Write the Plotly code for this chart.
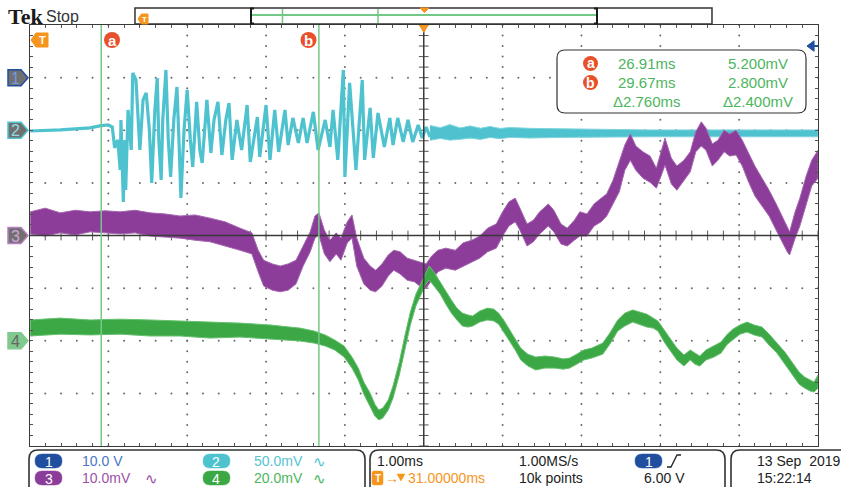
import numpy as np
import plotly.graph_objects as go

W, H = 841, 487
SANS = "Liberation Sans, Arial, sans-serif"
SERIF = "Liberation Serif, Times New Roman, serif"

# ---- acquisition settings -------------------------------------------------
t_left, t_right = 26.0, 36.0          # ms, 1.00 ms/div, centre at 31 ms
ch1_scale_v = 10.0                     # V/div
ch2_scale, ch3_scale, ch4_scale = 50.0, 10.0, 20.0   # mV/div
ch_offset = {1: 3.0, 2: 2.0, 3: 0.0, 4: -2.0}        # divisions
trig_level_v = 6.0

cursor_a_ms, cursor_b_ms = 26.91, 29.67
cursor_a_mv, cursor_b_mv = 5.200, 2.800

# ---- channel 2 (cyan): burst, then settled noise band ---------------------
ch2_t = [26.01, 26.39, 26.77, 26.89, 27.00, 27.05, 27.08, 27.12, 27.15, 27.16,
         27.19, 27.21, 27.22, 27.25, 27.29, 27.31, 27.35, 27.38, 27.40, 27.44,
         27.48, 27.52, 27.55, 27.59, 27.62, 27.64, 27.67, 27.69, 27.73, 27.76,
         27.79, 27.83, 27.87, 27.90, 27.92, 27.96, 28.00, 28.04, 28.07, 28.12,
         28.16, 28.19, 28.23, 28.25, 28.30, 28.34, 28.39, 28.44, 28.49, 28.53,
         28.57, 28.63, 28.69, 28.76, 28.80, 28.89, 28.92, 28.96, 29.00, 29.05,
         29.11, 29.16, 29.24, 29.28, 29.34, 29.41, 29.47, 29.52, 29.60, 29.66,
         29.75, 29.81, 29.85, 29.91, 29.98, 30.00, 30.06, 30.14, 30.22, 30.25,
         30.32, 30.36, 30.42, 30.50, 30.57, 30.61, 30.67, 30.74, 30.80, 30.86,
         30.93, 30.98, 31.03, 31.08]
ch2_mv = [-0.7, 0.3, 2.2, 4.1, 5.0, 3.1, -16.8, -9.2, -37.7, 9.8,
          -68.1, -9.2, -56.7, 19.3, -18.7, 54.4, 47.8, 5.0, -18.7, 28.8,
          35.4, 0.3, -50.1, 19.3, 49.7, -9.2, -47.2, 9.8, 57.3, -9.2,
          -44.4, 9.8, 41.1, -18.7, -64.3, 0.3, 38.3, -9.2, -34.9, 26.9,
          -18.7, -31.1, 14.5, 28.8, -21.6, 9.8, 26.9, -23.5, 9.8, 25.9,
          -28.2, 9.8, -18.7, 24.0, -30.1, 12.6, -25.4, 0.3, 24.0, -28.2,
          19.3, -20.6, 19.3, -14.0, 11.7, -12.1, 11.7, -12.1, 17.4, -18.7,
          9.8, -15.9, 19.3, -28.2, 57.3, -44.4, 45.0, -37.7, 47.8, -28.2,
          21.2, -26.3, 16.4, -15.9, 11.7, -14.0, 11.7, -11.1, 9.8, -11.1,
          5.0, -7.3, 3.1, -6.4]
ch2_tail_t = [31.08, 31.21, 31.33, 31.46, 31.59, 31.72, 31.84, 31.97, 32.09,
              32.35, 32.73, 33.11, 33.87, 36.00]
ch2_tail_hi = [4.6, 2.4, 5.4, 2.2, 4.1, 1.9, 3.6, 1.7, 2.6, 1.8, 1.4, 0.9, 0.3, 0.3]
ch2_tail_lo = [-9.6, -7.8, -9.4, -8.6, -7.5, -8.7, -6.9, -8.0, -6.8,
               -7.4, -6.8, -6.4, -6.2, -6.2]

# ---- channel 3 (purple): noise band envelope -------------------------------
ch3_t = [26.01, 26.20, 26.39, 26.58, 26.77, 26.96, 27.15, 27.34, 27.53, 27.72,
         27.91, 28.10, 28.29, 28.48, 28.67, 28.82, 28.90, 28.97, 29.08, 29.18,
         29.28, 29.38, 29.47, 29.56, 29.62, 29.67, 29.74, 29.81, 29.89, 29.95,
         30.03, 30.09, 30.15, 30.24, 30.32, 30.39, 30.47, 30.55, 30.62, 30.70,
         30.79, 30.88, 30.95, 31.03, 31.10, 31.18, 31.28, 31.40, 31.50, 31.61,
         31.71, 31.81, 31.92, 32.00, 32.08, 32.16, 32.22, 32.31, 32.39, 32.47,
         32.58, 32.65, 32.74, 32.82, 32.91, 32.98, 33.07, 33.16, 33.25, 33.32,
         33.40, 33.48, 33.55, 33.62, 33.69, 33.78, 33.87, 33.95, 34.01, 34.06,
         34.14, 34.21, 34.30, 34.38, 34.45, 34.52, 34.58, 34.66, 34.73, 34.81,
         34.88, 34.96, 35.04, 35.11, 35.20, 35.29, 35.38, 35.47, 35.54, 35.61,
         35.64, 35.71, 35.77, 35.85, 35.92, 36.00]
ch3_hi = [4.5, 5.2, 4.3, 4.8, 4.5, 4.7, 4.5, 4.8, 4.3, 4.1,
          3.7, 3.9, 3.3, 2.6, 1.4, 0.5, -2.8, -4.7, -5.4, -5.8,
          -5.4, -4.7, -2.0, 0.7, 3.7, 4.3, 1.0, -0.9, 0.5, -0.5,
          2.6, 3.9, -0.5, -4.3, -5.8, -6.6, -5.4, -3.7, -2.8, -3.1,
          -4.3, -4.7, -5.0, -5.4, -3.9, -2.8, -2.4, -2.8, -1.4, -0.9,
          -0.1, 1.4, 2.2, 4.5, 6.4, 7.1, 5.2, 2.2, 2.9, 4.5,
          6.0, 4.8, 2.2, 1.4, 2.9, 4.5, 4.1, 6.0, 7.1, 7.9,
          10.5, 13.9, 17.2, 19.3, 17.0, 15.9, 15.1, 12.8, 16.2, 18.5,
          14.7, 13.2, 14.3, 15.9, 19.7, 21.6, 20.4, 17.4, 18.1, 20.0,
          19.3, 20.0, 18.1, 15.9, 13.2, 10.9, 8.6, 6.0, 3.7, 1.4,
          0.7, 4.5, 7.1, 11.3, 14.3, 16.2]
ch3_lo = [0.3, -0.1, 0.5, 0.1, 0.7, 0.5, 0.3, 0.5, -0.1, -0.3,
          -0.5, -0.9, -1.2, -2.0, -2.8, -3.5, -6.9, -9.6, -10.4, -10.7,
          -10.4, -9.2, -5.8, -3.1, -0.5, 0.1, -3.5, -5.0, -3.5, -4.7,
          -1.4, -0.5, -5.8, -9.2, -10.4, -10.7, -9.6, -7.7, -6.6, -7.3,
          -8.5, -8.8, -9.6, -10.0, -8.5, -6.9, -6.2, -6.6, -5.8, -5.0,
          -4.3, -3.1, -2.4, -0.1, 1.8, 2.6, 1.0, -2.0, -1.2, 0.3,
          1.8, 0.7, -1.6, -2.0, -0.9, -0.1, -0.1, 1.8, 2.6, 3.7,
          6.0, 8.3, 12.4, 14.3, 12.4, 10.9, 10.1, 9.0, 11.3, 13.4,
          9.8, 8.6, 10.5, 12.1, 15.9, 17.0, 16.2, 13.2, 14.3, 15.9,
          15.1, 15.3, 13.2, 10.5, 7.5, 5.6, 3.7, 1.0, -0.9, -3.1,
          -3.7, -0.5, 1.8, 6.0, 9.4, 10.9]

# ---- channel 4 (green): noise band envelope --------------------------------
ch4_t = [26.01, 26.39, 26.77, 27.15, 27.53, 27.91, 28.29, 28.67, 29.05, 29.43,
         29.61, 29.75, 29.87, 29.99, 30.09, 30.17, 30.24, 30.32, 30.38, 30.43,
         30.48, 30.55, 30.61, 30.69, 30.76, 30.83, 30.90, 30.97, 31.02, 31.07,
         31.13, 31.21, 31.28, 31.35, 31.42, 31.49, 31.56, 31.62, 31.71, 31.81,
         31.89, 31.95, 32.03, 32.09, 32.16, 32.23, 32.32, 32.42, 32.54, 32.66,
         32.77, 32.85, 32.94, 33.03, 33.13, 33.27, 33.36, 33.46, 33.55, 33.65,
         33.74, 33.83, 33.91, 33.97, 34.05, 34.12, 34.21, 34.30, 34.38, 34.44,
         34.50, 34.58, 34.68, 34.77, 34.85, 34.92, 35.01, 35.10, 35.19, 35.29,
         35.39, 35.48, 35.58, 35.67, 35.76, 35.83, 35.90, 35.95, 36.00]
ch4_hi = [7.9, 8.6, 7.9, 8.2, 7.9, 7.5, 7.1, 6.7, 6.0, 4.8,
          3.7, 2.2, 0.3, -2.0, -6.2, -10.4, -15.7, -19.9, -24.1, -26.3,
          -25.6, -22.5, -17.2, -8.1, 1.8, 10.9, 17.7, 22.3, 25.7, 28.4,
          26.1, 22.3, 18.5, 15.5, 12.4, 10.5, 9.8, 9.4, 11.3, 12.4,
          12.0, 10.5, 7.1, 4.1, 0.3, -2.8, -5.1, -6.2, -5.8, -6.2,
          -6.9, -6.6, -5.1, -3.5, -2.8, -0.9, 2.9, 7.9, 10.5, 11.7,
          10.9, 10.1, 8.6, 7.5, 4.1, 1.0, -2.8, -5.4, -3.5, -4.7,
          -5.8, -3.5, -2.0, -0.5, 2.5, 4.4, 6.0, 7.1, 6.0, 5.2,
          2.2, -0.9, -4.3, -8.1, -11.9, -13.8, -14.9, -15.7, -13.0]
ch4_lo = [1.8, 2.5, 2.2, 2.5, 1.8, 1.8, 1.0, 1.4, 0.6, -0.1,
          -0.9, -2.0, -3.5, -6.2, -10.4, -14.9, -20.3, -25.2, -28.6, -30.1,
          -29.4, -26.3, -21.8, -13.0, -3.5, 6.0, 13.2, 17.7, 21.2, 23.1,
          20.8, 17.7, 13.9, 10.5, 7.9, 5.6, 5.2, 5.6, 7.1, 7.9,
          7.5, 6.3, 2.9, -0.1, -3.5, -7.3, -9.6, -11.1, -10.4, -10.4,
          -10.8, -10.4, -8.9, -7.3, -6.6, -5.1, -1.3, 3.7, 5.6, 7.1,
          6.3, 5.2, 4.8, 3.7, -0.5, -3.5, -7.3, -9.6, -7.3, -8.9,
          -9.6, -7.3, -6.2, -4.7, -1.3, 0.3, 2.5, 3.3, 2.2, 1.4,
          -2.0, -4.7, -8.9, -12.7, -16.5, -18.0, -19.1, -19.5, -18.0]

# ---- colours ---------------------------------------------------------------
C_CH1, C_CH1_TXT = "#1f4f9e", "#4a76c6"
C_CH2, C_CH2_TXT = "#4ec3cf", "#55c4d1"
C_CH3, C_CH3_TXT = "#8c3d99", "#9b52a8"
C_CH4, C_CH4_TXT = "#3ca845", "#4cb65c"
C_ORANGE = "#f7941d"
C_CURSOR = "#74c887"
C_LABEL = "#e8502a"
C_READ = "#4db55e"
C_FRAME = "#3a3a3a"


def P(x, y):
    """pixel position -> paper coordinates"""
    return x / W, 1 - y / H


def pp(x, y):
    a, b = P(x, y)
    return f"{a:.5f},{b:.5f}"


def poly_px(points):
    return "M" + " L".join(pp(x, y) for x, y in points) + " Z"


def rrect_px(x0, y0, x1, y1, r):
    return (f"M{pp(x0 + r, y0)} L{pp(x1 - r, y0)} Q{pp(x1, y0)} {pp(x1, y0 + r)} "
            f"L{pp(x1, y1 - r)} Q{pp(x1, y1)} {pp(x1 - r, y1)} L{pp(x0 + r, y1)} "
            f"Q{pp(x0, y1)} {pp(x0, y1 - r)} L{pp(x0, y0 + r)} Q{pp(x0, y0)} {pp(x0 + r, y0)} Z")


shapes, annos = [], []


def txt(x, y, s, color="#222", size=14, anchor="left", family=SANS):
    a, b = P(x, y)
    annos.append(dict(x=a, y=b, xref="paper", yref="paper", text=s, showarrow=False,
                      xanchor=anchor, yanchor="middle",
                      font=dict(family=family, size=size, color=color)))


def to_div(values, ch, scale):
    return [ch_offset[ch] + v / scale for v in values]


fig = go.Figure()

# ---- graticule dots --------------------------------------------------------
minor_x = np.round(np.arange(t_left, t_right + 1e-9, 0.2), 3)
minor_y = np.round(np.arange(-4, 4 + 1e-9, 0.2), 3)
major_x = [v for v in range(27, 36) if v != 31]
major_y = [v for v in range(-3, 4) if v != 0]
gx = [mx for mx in major_x for _ in minor_y] + [x for _ in major_y for x in minor_x]
gy = [y for _ in major_x for y in minor_y] + [my for my in major_y for _ in minor_x]
fig.add_trace(go.Scatter(x=gx, y=gy, mode="markers", hoverinfo="skip",
                         marker=dict(size=2, color="#6a6a6a")))
fig.add_trace(go.Scatter(x=[31] * len(minor_y), y=minor_y, mode="markers", hoverinfo="skip",
                         marker=dict(symbol="line-ew", size=7, line=dict(width=1, color="#555"))))
fig.add_trace(go.Scatter(x=minor_x, y=[0] * len(minor_x), mode="markers", hoverinfo="skip",
                         marker=dict(symbol="line-ns", size=7, line=dict(width=1, color="#555"))))


def band(t, hi, lo, ch, scale, fill, edge):
    xs = list(t) + list(t[::-1])
    ys = to_div(hi, ch, scale) + to_div(lo[::-1], ch, scale)
    return go.Scatter(x=xs, y=ys, mode="lines", fill="toself", fillcolor=fill,
                      line=dict(color=edge, width=1), hoverinfo="skip")


# ---- waveforms -------------------------------------------------------------
fig.add_trace(go.Scatter(x=ch2_t, y=to_div(ch2_mv, 2, ch2_scale), mode="lines",
                         line=dict(color=C_CH2, width=3.2), hoverinfo="skip"))
fig.add_trace(band(ch2_tail_t, ch2_tail_hi, ch2_tail_lo, 2, ch2_scale, C_CH2, "#7fd3dc"))
fig.add_trace(band(ch3_t, ch3_hi, ch3_lo, 3, ch3_scale, C_CH3, "#a466b0"))
fig.add_trace(band(ch4_t, ch4_hi, ch4_lo, 4, ch4_scale, C_CH4, "#66c06f"))

# ---- centre lines and cursors ----------------------------------------------
shapes.append(dict(type="line", xref="x", yref="y", x0=t_left, x1=t_right, y0=0, y1=0,
                   line=dict(color=C_FRAME, width=1.5), layer="above"))
shapes.append(dict(type="line", xref="x", yref="y", x0=31, x1=31, y0=-4, y1=4,
                   line=dict(color=C_FRAME, width=1.5), layer="above"))
for tc in (cursor_a_ms, cursor_b_ms):
    shapes.append(dict(type="line", xref="x", yref="y", x0=tc, x1=tc, y0=-4, y1=4,
                       line=dict(color=C_CURSOR, width=1.5), layer="above"))

# expansion-point marker at screen centre
shapes.append(dict(type="path", xref="x", yref="y", layer="above",
                   path=f"M30.943,4 L31.057,4 L31,3.86 Z",
                   fillcolor=C_ORANGE, line=dict(color=C_ORANGE, width=1)))
# trigger level arrow on the right edge
ytrig = ch_offset[1] + trig_level_v / ch1_scale_v
shapes.append(dict(type="path", xref="x", yref="y", layer="above",
                   path=f"M35.86,{ytrig} L35.95,{ytrig + 0.1} L35.95,{ytrig - 0.1} Z",
                   fillcolor=C_CH1, line=dict(color=C_CH1, width=1)))
shapes.append(dict(type="line", xref="x", yref="y", x0=35.94, x1=36.0, y0=ytrig, y1=ytrig,
                   line=dict(color=C_CH1, width=2), layer="above"))

# cursor labels
for cx, lab in ((112, "a"), (308.5, "b")):
    a0, b0 = P(cx - 8, 48)
    a1, b1 = P(cx + 8, 32)
    shapes.append(dict(type="circle", xref="paper", yref="paper", x0=a0, x1=a1, y0=b0, y1=b1,
                       fillcolor=C_LABEL, line=dict(color=C_LABEL, width=0), layer="above"))
    txt(cx, 40, f"<b>{lab}</b>", "white", 15, "center")

# trigger position marker (top-left)
shapes.append(dict(type="path", xref="paper", yref="paper", layer="above",
                   path=poly_px([(31, 40), (36, 33), (48, 33), (48, 47), (36, 47)]),
                   fillcolor=C_ORANGE, line=dict(color=C_ORANGE, width=1)))
txt(42.5, 40.5, "<b>T</b>", "white", 11, "center")

# ---- cursor readout box ----------------------------------------------------
shapes.append(dict(type="path", xref="paper", yref="paper", layer="above",
                   path=rrect_px(557, 50, 806, 113, 8), fillcolor="white",
                   line=dict(color="#333", width=1.2)))
rows = [(63.5, "a", f"{cursor_a_ms:.2f}ms", f"{cursor_a_mv:.3f}mV"),
        (82.5, "b", f"{cursor_b_ms:.2f}ms", f"{cursor_b_mv:.3f}mV"),
        (101.5, None, f"\u0394{cursor_b_ms - cursor_a_ms:.3f}ms",
         f"\u0394{abs(cursor_b_mv - cursor_a_mv):.3f}mV")]
for ry, lab, s1, s2 in rows:
    if lab:
        a0, b0 = P(583, ry + 7.5)
        a1, b1 = P(598, ry - 7.5)
        shapes.append(dict(type="circle", xref="paper", yref="paper", x0=a0, x1=a1,
                           y0=b0, y1=b1, fillcolor=C_LABEL, line=dict(width=0), layer="above"))
        txt(590.5, ry, f"<b>{lab}</b>", "white", 14, "center")
    txt(647, ry, s1, C_READ, 15, "center")
    txt(758, ry, s2, C_READ, 15, "center")

# ---- channel ground markers (left) -----------------------------------------
markers = [(1, "#707070", C_CH1, "#6f9be0"), (2, "#707070", C_CH2, "#8fdce4"),
           (3, "#707070", "#b77fc2", "#d3a3da"), (4, "#80c98f", "#80c98f", "#666666")]
for ch, fill, edge, dig in markers:
    yc = 235.5 - ch_offset[ch] * 52.6
    shapes.append(dict(type="path", xref="paper", yref="paper", layer="above",
                       path=poly_px([(8, yc - 8), (21, yc - 8), (28, yc), (21, yc + 8), (8, yc + 8)]),
                       fillcolor=fill, line=dict(color=edge, width=1.5)))
    txt(15.5, yc + 0.5, str(ch), dig, 16, "center")

# ---- header: logo, record view ---------------------------------------------
txt(6, 16, "<b>Tek</b>", "#1a1a1a", 22, "left", SERIF)
txt(44, 16.5, "Stop", "#333", 16)
shapes.append(dict(type="path", xref="paper", yref="paper",
                   path=poly_px([(135, 8), (712, 8), (712, 24), (135, 24)]),
                   fillcolor="white", line=dict(color="#333", width=1.5)))
rec_x0, rec_x1 = 251, 597


def rec_x(t):
    return rec_x0 + (t - t_left) / (t_right - t_left) * (rec_x1 - rec_x0)


a0, b0 = P(rec_x0, 15)
a1, _ = P(rec_x1, 15)
shapes.append(dict(type="line", xref="paper", yref="paper", x0=a0, x1=a1, y0=b0, y1=b0,
                   line=dict(color=C_CURSOR, width=2)))
for tc in (cursor_a_ms, cursor_b_ms):
    a0, b0 = P(rec_x(tc), 9)
    _, b1 = P(rec_x(tc), 23)
    shapes.append(dict(type="line", xref="paper", yref="paper", x0=a0, x1=a0, y0=b0, y1=b1,
                       line=dict(color=C_CURSOR, width=1.5)))
for bx, d in ((rec_x0, 1), (rec_x1, -1)):
    shapes.append(dict(type="path", xref="paper", yref="paper",
                       path=f"M{pp(bx + 3 * d, 8.5)} L{pp(bx, 8.5)} L{pp(bx, 23.5)} L{pp(bx + 3 * d, 23.5)}",
                       line=dict(color="#1a1a1a", width=2)))
shapes.append(dict(type="path", xref="paper", yref="paper",
                   path=poly_px([(420, 8), (429, 8), (424.5, 12.5)]),
                   fillcolor=C_ORANGE, line=dict(color=C_ORANGE, width=1)))
shapes.append(dict(type="path", xref="paper", yref="paper",
                   path=poly_px([(138, 19), (141.5, 14), (148, 14), (148, 24), (141.5, 24)]),
                   fillcolor=C_ORANGE, line=dict(color=C_ORANGE, width=1)))
txt(144, 19.5, "<b>T</b>", "white", 8, "center")

# ---- status bar --------------------------------------------------------------
for x0, x1 in ((29, 365), (370, 725), (731, 852)):
    shapes.append(dict(type="path", xref="paper", yref="paper",
                       path=rrect_px(x0, 450, x1, 500, 9),
                       fillcolor="rgba(0,0,0,0)", line=dict(color="#333", width=1.6)))


def pill(x0, yc, label, color):
    shapes.append(dict(type="path", xref="paper", yref="paper",
                       path=rrect_px(x0, yc - 7, x0 + 27, yc + 7, 7),
                       fillcolor=color, line=dict(color=color, width=0.5)))
    txt(x0 + 13.5, yc + 0.5, label, "white", 14, "center")


R1, R2 = 461, 478
pill(35, R1, "1", C_CH1)
pill(35, R2, "3", C_CH3)
pill(203, R1, "2", C_CH2)
pill(203, R2, "4", C_CH4)
txt(80, R1, f"{ch1_scale_v:.1f} V", C_CH1_TXT)
txt(80, R2, f"{ch3_scale:.1f}mV", C_CH3_TXT)
txt(143, R2, "\u223f", C_CH3_TXT, 15)
txt(252, R1, f"{ch2_scale:.1f}mV", C_CH2_TXT)
txt(311, R1, "\u223f", C_CH2_TXT, 15)
txt(252, R2, f"{ch4_scale:.1f}mV", C_CH4_TXT)
txt(311, R2, "\u223f", C_CH4_TXT, 15)

txt(375, R1, "1.00ms")
shapes.append(dict(type="path", xref="paper", yref="paper",
                   path=rrect_px(372, R2 - 7, 383, R2 + 7, 2),
                   fillcolor=C_ORANGE, line=dict(color=C_ORANGE, width=0.5)))
txt(377.5, R2 + 0.5, "<b>T</b>", "white", 10, "center")
txt(383, R2, "\u2192", C_ORANGE)
shapes.append(dict(type="path", xref="paper", yref="paper",
                   path=poly_px([(397, R2 - 4), (405, R2 - 4), (401, R2 + 3)]),
                   fillcolor=C_ORANGE, line=dict(color=C_ORANGE, width=0.5)))
txt(406, R2, "31.00000ms", C_ORANGE)
txt(517, R1, "1.00MS/s")
txt(517, R2, "10k points")
pill(635, R1, "1", C_CH1)
shapes.append(dict(type="path", xref="paper", yref="paper",
                   path=f"M{pp(667, 467)} L{pp(671, 467)} L{pp(677, 455)} L{pp(681, 455)}",
                   line=dict(color="#222", width=1.3)))
txt(642, R2, f"{trig_level_v:.2f} V")
txt(755, R1, "13 Sep  2019")
txt(755, R2, "15:22:14")

# ---- axes / layout -----------------------------------------------------------
axis_common = dict(showgrid=False, zeroline=False, showline=True, mirror="ticks",
                   linecolor=C_FRAME, linewidth=1.3, ticks="inside", ticklen=3,
                   tickwidth=1, tickcolor="#555", showticklabels=False, fixedrange=True)
fig.update_layout(
    width=W, height=H, margin=dict(l=0, r=0, t=0, b=0),
    paper_bgcolor="white", plot_bgcolor="white", showlegend=False,
    xaxis=dict(domain=[29.5 / W, 818 / W], range=[t_left, t_right],
               tickvals=list(minor_x), **axis_common),
    yaxis=dict(domain=[1 - 446 / H, 1 - 25 / H], range=[-4, 4],
               tickvals=list(minor_y), **axis_common),
    shapes=shapes, annotations=annos,
)

fig.write_html("out.html")
